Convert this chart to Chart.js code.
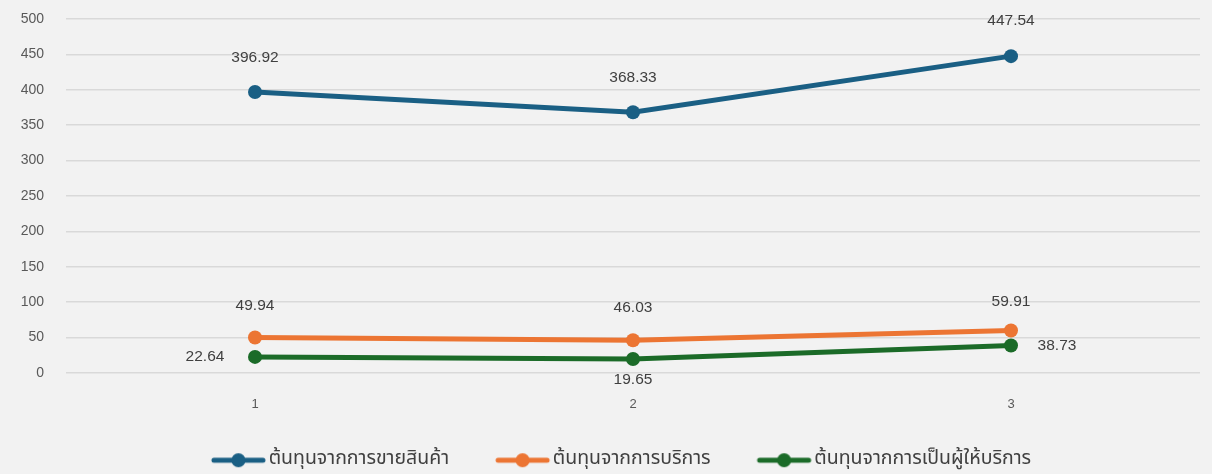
<!DOCTYPE html>
<html><head><meta charset="utf-8">
<script src="https://cdn.jsdelivr.net/npm/chart.js@4.4.1/dist/chart.umd.min.js"></script>
<style>html,body{margin:0;padding:0;background:#f2f2f2;}#wrap{width:1212px;height:474px;}</style>
</head><body><div id="wrap"><canvas id="c" width="1212" height="474"></canvas></div>
<script>
const categories = ['1', '2', '3'];
const salesCost = [396.92, 368.33, 447.54];
const serviceCost = [49.94, 46.03, 59.91];
const agentCost = [22.64, 19.65, 38.73];
const seriesNames = ['ต้นทุนจากการขายสินค้า', 'ต้นทุนจากการบริการ', 'ต้นทุนจากการเป็นผู้ให้บริการ'];
const colors = ['#1a5f84', '#ec7533', '#1b6b28'];

function legendIcon(color) {
  const cv = document.createElement('canvas');
  cv.width = 110; cv.height = 16;
  const g = cv.getContext('2d');
  g.strokeStyle = color; g.lineWidth = 5; g.lineCap = 'round';
  g.beginPath(); g.moveTo(55, 8); g.lineTo(104, 8); g.stroke();
  g.fillStyle = color; g.beginPath(); g.arc(79.5, 8, 7, 0, Math.PI * 2); g.fill();
  return cv;
}

// label offsets per dataset/point [dx, dy]
const labelOffsets = [
  [[0, -34], [0, -34], [0, -35]],
  [[0, -32], [0, -33], [0, -29]],
  [[-50, 0], [0, 21], [46, 0]]
];

const labelPlugin = {
  id: 'pointLabels',
  afterDatasetsDraw(chart) {
    const ctx = chart.ctx;
    ctx.save();
    ctx.font = '15.5px "Liberation Sans", Arial, sans-serif';
    ctx.fillStyle = '#404040';
    ctx.textAlign = 'center';
    ctx.textBaseline = 'middle';
    chart.data.datasets.forEach((ds, di) => {
      const meta = chart.getDatasetMeta(di);
      meta.data.forEach((pt, i) => {
        const o = labelOffsets[di][i];
        ctx.fillText(ds.data[i].toFixed(2), pt.x + o[0], pt.y + o[1]);
      });
    });
    ctx.restore();
  }
};

const bg = {
  id: 'bg',
  beforeDraw(chart) {
    const c = chart.ctx; c.save(); c.fillStyle = '#f2f2f2'; c.fillRect(0, 0, chart.width, chart.height); c.restore();
  }
};

const dataArrays = [salesCost, serviceCost, agentCost];
new Chart(document.getElementById('c'), {
  type: 'line',
  data: {
    labels: categories,
    datasets: dataArrays.map((d, i) => ({
      label: seriesNames[i],
      data: d,
      borderColor: colors[i],
      backgroundColor: colors[i],
      borderWidth: 5,
      pointRadius: 7,
      pointHoverRadius: 7,
      pointBackgroundColor: colors[i],
      pointBorderWidth: 0,
      tension: 0,
      pointStyle: 'circle'
    }))
  },
  options: {
    responsive: false,
    animation: false,
    events: [],
    layout: { padding: { left: 0, right: 12, top: 0, bottom: -6 } },
    scales: {
      x: {
        offset: true,
        grid: { display: false, drawTicks: false },
        border: { display: false },
        ticks: { color: '#595959', font: { size: 13, family: '"Liberation Sans", Arial, sans-serif' }, padding: 24 },
        afterFit(s) { s.height += 10; }
      },
      y: {
        min: 0, max: 500,
        ticks: { stepSize: 50, color: '#595959', font: { size: 14, family: '"Liberation Sans", Arial, sans-serif' }, padding: 22 },
        grid: { color: '#d9d9d9', lineWidth: 1.5, drawTicks: false },
        border: { display: false },
        afterFit(s) { s.width = 66; s.paddingTop = 19; }
      }
    },
    plugins: {
      legend: {
        position: 'bottom',
        labels: {
          usePointStyle: true,
          pointStyleWidth: 90,
          color: '#404040',
          padding: 4,
          font: { size: 19.5, family: '"Noto Sans Thai", "Leelawadee UI", Tahoma, sans-serif' },
          generateLabels(chart) {
            return chart.data.datasets.map((ds, i) => ({
              text: ds.label,
              fillStyle: colors[i],
              strokeStyle: colors[i],
              pointStyle: legendIcon(colors[i]),
              datasetIndex: i,
              lineWidth: 0,
              fontColor: '#404040'
            }));
          }
        }
      },
      tooltip: { enabled: false }
    }
  },
  plugins: [bg, labelPlugin]
});
</script>
</body></html>
